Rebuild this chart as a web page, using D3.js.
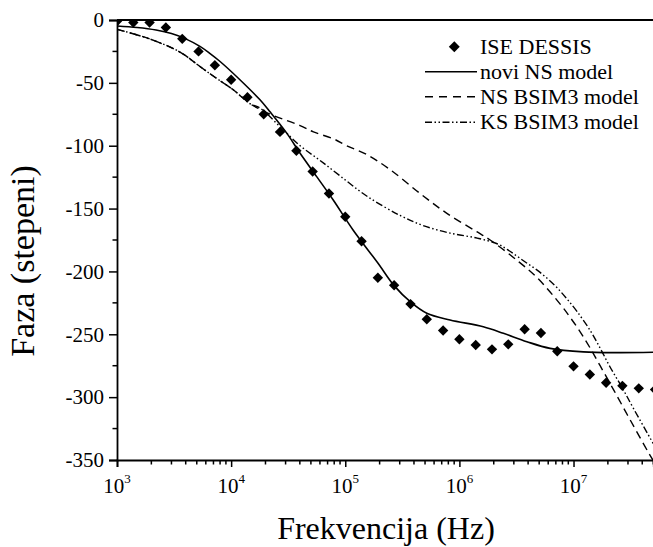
<!DOCTYPE html>
<html><head><meta charset="utf-8">
<script src="https://cdn.jsdelivr.net/npm/d3@7"></script>
<style>
html,body{margin:0;padding:0;background:#fff;}
svg{display:block;font-family:"Liberation Serif","Times New Roman",serif;}
</style></head>
<body><svg id="chart" width="653" height="547"></svg>
<script>
// ISE DESSIS simulation points (frequency Hz, phase deg)
const dessisFreq = [1e3,1.39e3,1.93e3,2.68e3,3.73e3,5.18e3,7.2e3,1e4,1.39e4,1.93e4,2.68e4,3.73e4,5.18e4,7.2e4,1e5,1.39e5,1.93e5,2.68e5,3.73e5,5.18e5,7.2e5,1e6,1.39e6,1.93e6,2.68e6,3.73e6,5.18e6,7.2e6,1e7,1.39e7,1.93e7,2.68e7,3.73e7,5.18e7];
const dessisPhase = [-1,-2,-2,-6,-15,-25,-36,-47.5,-61.5,-75,-89,-104,-120.5,-138,-156.5,-176,-205,-211,-226,-238,-247,-254,-258.5,-262,-258,-246,-249,-263.5,-275.5,-282,-288.5,-291,-293,-294];

// novi NS model (solid)
const noviFreq = [1e3,1.5e3,2.2e3,3e3,4e3,5.33e3,6.5e3,8e3,1.2e4,1.79e4,2.19e4,3.07e4,4.02e4,5.62e4,7.82e4,1.17e5,1.93e5,2.68e5,3.75e5,5.18e5,8.28e5,1.62e6,2.43e6,3.9e6,6.24e6,1.22e7,2.4e7,5e7];
const noviPhase = [-4.8,-6,-8,-10.8,-15,-21,-26.5,-33,-47.7,-63.5,-73,-90,-106,-124.6,-143,-167,-193.3,-211.3,-224.5,-233.3,-238.6,-244,-249.2,-255.9,-261.2,-264,-264.6,-264.3];

// NS BSIM3 model (dashed)
const nsFreq = [1e3,1.95e3,3.56e3,5.33e3,7.45e3,1.05e4,1.46e4,1.79e4,2.35e4,4.02e4,5.26e4,7.87e4,1.03e5,1.54e5,2.47e5,4.51e5,7.77e5,1.42e6,1.86e6,3.18e6,4.8e6,7.64e6,9.34e6,1.143e7,1.4e7,1.71e7,2.24e7,3.13e7,4.53e7,5e7];
const nsPhase = [-7.4,-15.2,-25.5,-37,-46.4,-55.7,-66.5,-71,-76,-84,-89,-94.5,-100,-107,-119,-137.9,-153.8,-168.4,-175,-191,-205,-226,-236.5,-248,-261,-275,-294,-318,-344,-350.5];

// KS BSIM3 model (dash-dot-dot)
const ksFreq = [1e3,1.95e3,3.56e3,5.33e3,7.45e3,1.05e4,1.46e4,1.79e4,2.69e4,4.02e4,5.97e4,9.0e4,1.54e5,3.03e5,4.81e5,8.28e5,1.43e6,2.14e6,2.62e6,3.21e6,3.92e6,4.8e6,5.87e6,7.18e6,8.79e6,1.076e7,1.4e7,1.71e7,2.09e7,2.65e7,3.35e7,5e7];
const ksPhase = [-7.4,-15.2,-25.5,-37,-46.4,-55.7,-66.5,-70,-85,-100,-111.5,-124,-140,-155.5,-163.5,-169.5,-173.5,-178,-182.5,-188,-193.5,-199,-205.5,-213,-222,-232,-247,-261,-276,-292,-309,-337];

const yTicks = [0,-50,-100,-150,-200,-250,-300,-350];
const xDecades = [1e3,1e4,1e5,1e6,1e7];
const xTickExp = ["3","4","5","6","7"];
const legendLabels = ["ISE DESSIS","novi NS model","NS BSIM3 model","KS BSIM3 model"];

const svg = d3.select("#chart");
const L = 117, T = 20, R = 653.3, B = 460;
const x = d3.scaleLog().domain([1e3, 5e7]).range([L, R]);
const y = d3.scaleLinear().domain([-350, 0]).range([B, T]);

svg.append("defs").append("clipPath").attr("id","clip")
  .append("rect").attr("x",L).attr("y",T).attr("width",R-L).attr("height",B-T);

const plot = svg.append("g").attr("clip-path","url(#clip)");

const line = d3.line().x(d=>x(d[0])).y(d=>y(d[1])).curve(d3.curveCatmullRom.alpha(0.5));
const zip = (a,b)=>a.map((v,i)=>[v,b[i]]);

plot.append("path").datum(zip(nsFreq,nsPhase)).attr("d",line)
  .attr("fill","none").attr("stroke","#000").attr("stroke-width",1.4).attr("stroke-dasharray","8,5");
plot.append("path").datum(zip(ksFreq,ksPhase)).attr("d",line)
  .attr("fill","none").attr("stroke","#000").attr("stroke-width",1.4).attr("stroke-dasharray","7,2.5,1.5,2.5,1.5,2.5");
plot.append("path").datum(zip(noviFreq,noviPhase)).attr("d",line)
  .attr("fill","none").attr("stroke","#000").attr("stroke-width",1.6);

const sym = d3.symbol().type(d3.symbolSquare).size(54);
plot.selectAll("path.pt").data(zip(dessisFreq,dessisPhase)).enter().append("path")
  .attr("class","pt").attr("d",sym)
  .attr("transform",d=>`translate(${x(d[0])},${y(d[1])}) rotate(45)`)
  .attr("fill","#000");

// axes
const yAxis = d3.axisLeft(y).tickValues(yTicks).tickSize(8).tickPadding(5).tickFormat(d=>d===0?"0":"-"+Math.abs(d));
const gy = svg.append("g").attr("transform",`translate(${L},0)`).call(yAxis);
gy.attr("font-family",null).attr("font-size",null);
gy.selectAll("text").attr("font-size",21).attr("font-family","Liberation Serif, serif");
gy.selectAll("line").attr("stroke-width",1.5);
gy.select(".domain").attr("stroke-width",1.8);
// y minor ticks
const yMinor = d3.range(-325, 0, 50);
svg.append("g").selectAll("line").data(yMinor).enter().append("line")
  .attr("x1",L-4.5).attr("x2",L).attr("y1",d=>y(d)).attr("y2",d=>y(d))
  .attr("stroke","#000").attr("stroke-width",1.5);

const xAxis = d3.axisBottom(x).tickValues(xDecades).tickSize(7).tickFormat("");
const gx = svg.append("g").attr("transform",`translate(0,${B})`).call(xAxis);
gx.selectAll("line").attr("stroke-width",1.5);
gx.select(".domain").attr("stroke-width",1.8);
const xMinor = [];
xDecades.forEach(dec=>{ for(let m=2;m<=9;m++){ const v=dec*m; if(v<=5e7) xMinor.push(v);} });
svg.append("g").selectAll("line").data(xMinor).enter().append("line")
  .attr("x1",d=>x(d)).attr("x2",d=>x(d)).attr("y1",B).attr("y2",B+4.5)
  .attr("stroke","#000").attr("stroke-width",1.5);
// x tick labels 10^n
const xl = svg.append("g");
xDecades.forEach((v,i)=>{
  const t = xl.append("text").attr("x",x(v)).attr("y",493).attr("text-anchor","middle").attr("font-size",21);
  t.append("tspan").text("10");
  t.append("tspan").attr("dy",-10).attr("font-size",13).text(xTickExp[i]);
});
// top frame line
svg.append("line").attr("x1",L).attr("x2",R).attr("y1",T).attr("y2",T).attr("stroke","#000").attr("stroke-width",1.8);

// titles
svg.append("text").attr("x",386).attr("y",539).attr("text-anchor","middle").attr("font-size",32).text("Frekvencija (Hz)");
svg.append("text").attr("transform","translate(34,261) rotate(-90)").attr("text-anchor","middle").attr("font-size",34).text("Faza (stepeni)");

// legend
const lg = svg.append("g");
const rows = [46.7, 71.7, 96.7, 122.2];
lg.append("path").attr("d",d3.symbol().type(d3.symbolSquare).size(60)).attr("transform",`translate(454.3,${rows[0]}) rotate(45)`).attr("fill","#000");
lg.append("line").attr("x1",425).attr("x2",477).attr("y1",rows[1]).attr("y2",rows[1]).attr("stroke","#000").attr("stroke-width",1.6);
lg.append("line").attr("x1",425).attr("x2",477).attr("y1",rows[2]).attr("y2",rows[2]).attr("stroke","#000").attr("stroke-width",1.4).attr("stroke-dasharray","8,6");
lg.append("line").attr("x1",425).attr("x2",477).attr("y1",rows[3]).attr("y2",rows[3]).attr("stroke","#000").attr("stroke-width",1.4).attr("stroke-dasharray","7,2.5,1.5,2.5,1.5,2.5");
legendLabels.forEach((s,i)=>{
  lg.append("text").attr("x",480).attr("y",rows[i]+7).attr("font-size",22).text(s);
});
</script></body></html>
